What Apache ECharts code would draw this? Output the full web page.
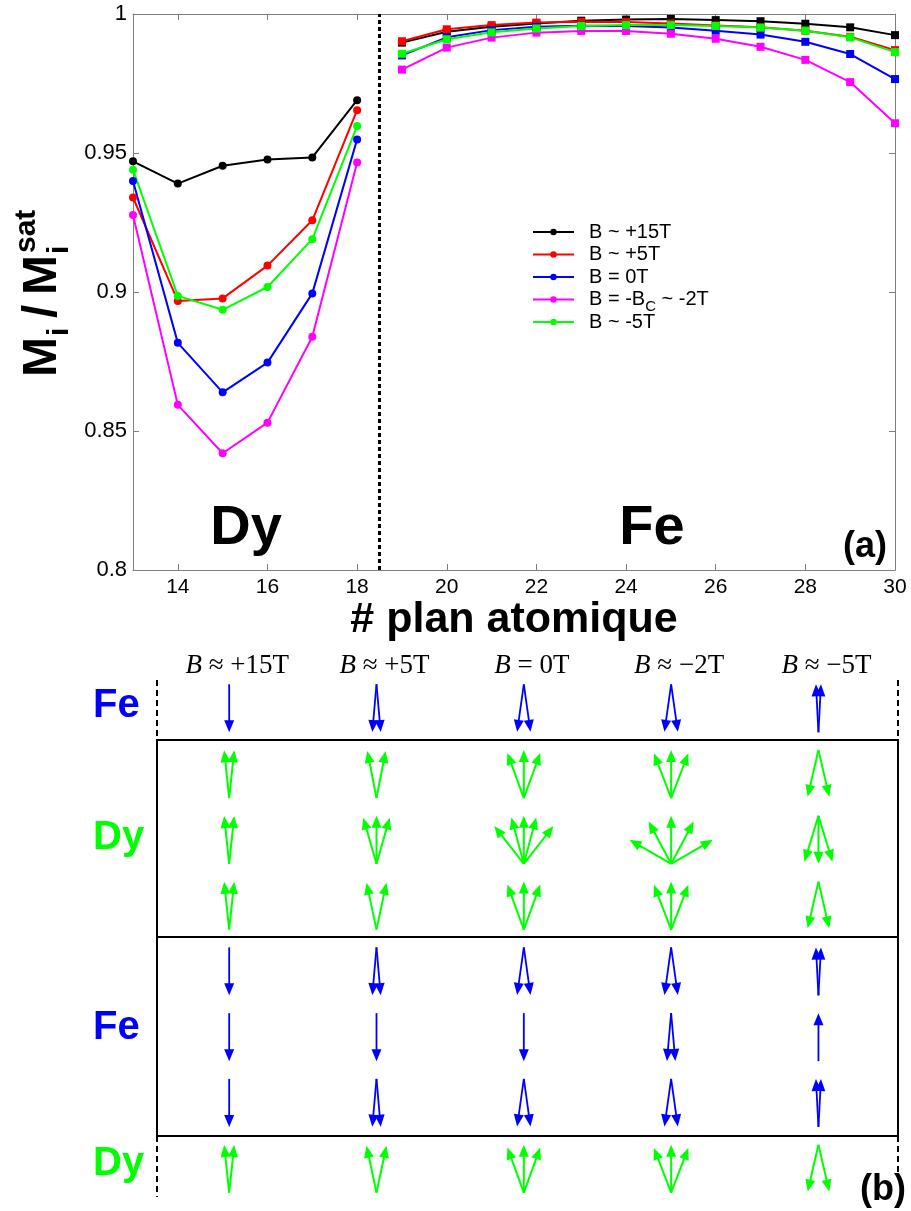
<!DOCTYPE html>
<html><head><meta charset="utf-8">
<script src="https://cdn.jsdelivr.net/npm/echarts@6/dist/echarts.min.js"></script>
<style>html,body{margin:0;padding:0;background:#fff}#c{width:911px;height:1211px}</style>
</head><body><div id="c"></div>
<script>
// ---------- Panel (a) data ----------
const planesDy = [13, 14, 15, 16, 17, 18];
const planesFe = [19, 20, 21, 22, 23, 24, 25, 26, 27, 28, 29, 30];
const xTickValues = [14, 16, 18, 20, 22, 24, 26, 28, 30];
const seriesNames = ['B ~ +15T', 'B ~ +5T', 'B = 0T', 'B = -B_C ~ -2T', 'B ~ -5T'];
const seriesColors = ['#000000', '#ff0000', '#0000ff', '#ff00ff', '#00ff00'];

const dyP15 = [0.947, 0.939, 0.9454, 0.9477, 0.9484, 0.969];
const dyP5  = [0.934, 0.8968, 0.8977, 0.9095, 0.9258, 0.9654];
const dy0   = [0.9399, 0.8817, 0.8639, 0.8746, 0.8995, 0.9549];
const dyM2  = [0.9277, 0.8594, 0.842, 0.853, 0.8839, 0.9466];
const dyM5  = [0.944, 0.8986, 0.8936, 0.9018, 0.919, 0.9597];

const feP15 = [0.9897, 0.9936, 0.9954, 0.9966, 0.9976, 0.998, 0.9982, 0.9978, 0.9974, 0.9965, 0.9952, 0.9924];
const feP5  = [0.9902, 0.9945, 0.996, 0.9969, 0.9972, 0.9971, 0.9966, 0.9959, 0.9952, 0.994, 0.9918, 0.987];
const fe0   = [0.9851, 0.9916, 0.9942, 0.9954, 0.9958, 0.9957, 0.9951, 0.994, 0.9926, 0.99, 0.9856, 0.9766];
const feM2  = [0.98, 0.9879, 0.9915, 0.9933, 0.9939, 0.9939, 0.9929, 0.9911, 0.9882, 0.9835, 0.9755, 0.9607];
const feM5  = [0.9857, 0.9909, 0.9934, 0.9948, 0.9957, 0.996, 0.996, 0.9957, 0.9951, 0.994, 0.9916, 0.9863];

const dySets = [dyP15, dyP5, dy0, dyM2, dyM5];
const feSets = [feP15, feP5, fe0, feM2, feM5];
const interfacePlane = 18.5;

// ---------- Panel (b) data ----------
const bHeaders = ['\u00a0≈\u00a0+15T', '\u00a0≈\u00a0+5T', '\u00a0=\u00a00T', '\u00a0≈\u00a0−2T', '\u00a0≈\u00a0−5T'];
const bRowKinds = ['Fe', 'Dy', 'Dy', 'Dy', 'Fe', 'Fe', 'Fe', 'Dy'];
// angles in degrees: 0 = up, 180 = down, positive = tilted right
const arrowAngles = [
  [[180], [-6, 6], [-6, 6], [-6, 6], [180], [180], [180], [-6, 6]],
  [[175, 185], [-11, 11], [-16, 0, 16], [-12, 12], [175, 185], [180], [175, 185], [-12, 12]],
  [[172, 188], [-20, 0, 20], [-38, -15, 0, 15, 38], [-20, 0, 20], [172, 188], [180], [172, 188], [-20, 0, 20]],
  [[172, 188], [-21, 0, 21], [-60, -28, 0, 28, 60], [-21, 0, 21], [172, 188], [175, 185], [172, 188], [-21, 0, 21]],
  [[-3, 3], [167, 193], [163, 180, 197], [167, 193], [-3, 3], [0], [-3, 3], [167, 193]]
];

const SANS = 'Liberation Sans';
const SERIF = 'Liberation Serif';

const arrowData = [];
arrowAngles.forEach((rows, c) => rows.forEach((angs, r) => angs.forEach(a => arrowData.push([c, r, a]))));

const series = [];
seriesNames.forEach((name, i) => {
  series.push({
    name, type: 'line', xAxisIndex: 0, yAxisIndex: 0,
    data: planesDy.map((x, j) => [x, dySets[i][j]]),
    symbol: 'circle', symbolSize: 8, color: seriesColors[i],
    lineStyle: { width: 2, color: seriesColors[i] }, itemStyle: { color: seriesColors[i] },
    z: 3,
    markLine: i === 0 ? {
      silent: true, symbol: ['none', 'none'], label: { show: false },
      lineStyle: { color: '#000', type: [4, 3], width: 3 },
      data: [{ xAxis: interfacePlane }]
    } : undefined
  });
});
seriesNames.forEach((name, i) => {
  series.push({
    name, type: 'line', xAxisIndex: 0, yAxisIndex: 0,
    data: planesFe.map((x, j) => [x, feSets[i][j]]),
    symbol: 'rect', symbolSize: 8, color: seriesColors[i],
    lineStyle: { width: 2, color: seriesColors[i] }, itemStyle: { color: seriesColors[i] },
    z: 3
  });
});

series.push({
  type: 'custom', xAxisIndex: 2, yAxisIndex: 2, data: arrowData, silent: true,
  renderItem: function (params, api) {
    const col = api.value(0), row = api.value(1), ang = api.value(2) * Math.PI / 180;
    const c = api.coord([col, row]);
    const L = 48, head = 12, hw = 5;
    const down = Math.cos(ang) < 0;
    const tx = c[0], ty = c[1] + (down ? -L / 2 : L / 2);
    const dx = Math.sin(ang), dy = -Math.cos(ang);
    const px = tx + dx * L, py = ty + dy * L;
    const bx = px - dx * head, by = py - dy * head;
    const isFe = bRowKinds[row] === 'Fe';
    const color = isFe ? '#0000ff' : '#00ff00';
    return {
      type: 'group', children: [
        { type: 'line', shape: { x1: tx, y1: ty, x2: bx + dx * 1, y2: by + dy * 1 }, style: { stroke: color, lineWidth: isFe ? 1.8 : 2 } },
        { type: 'polygon', shape: { points: [[px, py], [bx - dy * hw, by + dx * hw], [bx + dy * hw, by - dx * hw]] }, style: { fill: color } }
      ]
    };
  }
});

const axisGray = '#7f7f7f';
const option = {
  backgroundColor: '#fff',
  animation: false,
  textStyle: { fontFamily: SANS },
  legend: {
    data: seriesNames, orient: 'vertical', left: 532, top: 217, padding: 0,
    itemWidth: 41, itemHeight: 8, itemGap: -7.5,
    formatter: n => n === 'B = -B_C ~ -2T' ? 'B = -B{sub|C} ~ -2T' : n,
    textStyle: {
      fontSize: 20, color: '#000', fontFamily: SANS, lineHeight: 30, padding: [0, 0, 0, 10],
      rich: { sub: { fontSize: 15, fontFamily: SANS, color: '#000', lineHeight: 30, verticalAlign: 'bottom' } }
    }
  },
  grid: [
    { left: 133, right: 16, top: 14, bottom: 641 },
    { left: 157, right: 13, top: 680, bottom: 16 }
  ],
  xAxis: [
    {
      type: 'value', gridIndex: 0, min: 13, max: 30,
      axisLine: { lineStyle: { color: axisGray, width: 1 } },
      axisTick: { inside: true, length: 6, customValues: xTickValues, lineStyle: { color: axisGray } },
      axisLabel: { customValues: xTickValues, fontSize: 21, color: '#000', margin: 7, fontFamily: SANS },
      splitLine: { show: false },
      name: '# plan atomique', nameLocation: 'middle', nameGap: 22,
      nameTextStyle: { fontSize: 43, fontWeight: 'bold', color: '#000', fontFamily: SANS }
    },
    {
      type: 'value', gridIndex: 0, min: 13, max: 30, position: 'top',
      axisLine: { lineStyle: { color: axisGray, width: 1 } },
      axisTick: { inside: true, length: 6, customValues: xTickValues, lineStyle: { color: axisGray } },
      axisLabel: { show: false }, splitLine: { show: false }
    },
    {
      type: 'value', gridIndex: 1, min: -0.49, max: 4.54, position: 'top',
      axisLine: { show: false }, axisTick: { show: false }, splitLine: { show: false },
      axisLabel: {
        customValues: [0, 1, 2, 3, 4], margin: 1, padding: [0, 0, 0, 16],
        formatter: v => '{i|B}{n|' + bHeaders[Math.round(v)] + '}',
        rich: {
          i: { fontFamily: SERIF, fontStyle: 'italic', fontSize: 27, color: '#000' },
          n: { fontFamily: SERIF, fontSize: 27, color: '#000' }
        }
      }
    }
  ],
  yAxis: [
    {
      type: 'value', gridIndex: 0, min: 0.8, max: 1, interval: 0.05,
      axisLine: { show: true, lineStyle: { color: axisGray, width: 1 } },
      axisTick: { show: true, inside: true, length: 6, lineStyle: { color: axisGray } },
      axisLabel: { fontSize: 22, color: '#000', margin: 6, fontFamily: SANS, formatter: v => String(parseFloat(v.toFixed(2))) },
      splitLine: { show: false }
    },
    {
      type: 'value', gridIndex: 0, min: 0.8, max: 1, interval: 0.05, position: 'right',
      axisLine: { show: true, lineStyle: { color: axisGray, width: 1 } },
      axisTick: { show: true, inside: true, length: 6, lineStyle: { color: axisGray } },
      axisLabel: { show: false }, splitLine: { show: false }
    },
    { type: 'value', gridIndex: 1, min: -0.43, max: 7.4, inverse: true, show: false }
  ],
  graphic: [
    // panel (a) texts
    { type: 'text', x: 246, y: 529, style: { text: 'Dy', fill: '#000', font: 'bold 56px "Liberation Sans"', textAlign: 'center', textVerticalAlign: 'middle' } },
    { type: 'text', x: 652, y: 529, style: { text: 'Fe', fill: '#000', font: 'bold 56px "Liberation Sans"', textAlign: 'center', textVerticalAlign: 'middle' } },
    { type: 'text', x: 887, y: 547, style: { text: '(a)', fill: '#000', font: 'bold 36px "Liberation Sans"', textAlign: 'right', textVerticalAlign: 'middle' } },
    // y axis title
    {
      type: 'group', x: 60, y: 377, rotation: Math.PI / 2, children: [
        { type: 'text', x: 0, y: -17, style: { text: 'M', fill: '#000', font: 'bold 48px "Liberation Sans"', textAlign: 'left', textVerticalAlign: 'middle' } },
        { type: 'text', x: 41, y: 0, style: { text: 'i', fill: '#000', font: 'bold 30px "Liberation Sans"', textAlign: 'left', textVerticalAlign: 'middle' } },
        { type: 'text', x: 59, y: -17, style: { text: '/', fill: '#000', font: 'bold 48px "Liberation Sans"', textAlign: 'left', textVerticalAlign: 'middle' } },
        { type: 'text', x: 82, y: -17, style: { text: 'M', fill: '#000', font: 'bold 48px "Liberation Sans"', textAlign: 'left', textVerticalAlign: 'middle' } },
        { type: 'text', x: 123, y: 0, style: { text: 'i', fill: '#000', font: 'bold 30px "Liberation Sans"', textAlign: 'left', textVerticalAlign: 'middle' } },
        { type: 'text', x: 124, y: -33, style: { text: 'sat', fill: '#000', font: 'bold 30px "Liberation Sans"', textAlign: 'left', textVerticalAlign: 'middle' } }
      ]
    },
    // panel (b) frames
    { type: 'rect', shape: { x: 157, y: 740, width: 741, height: 197 }, style: { fill: 'none', stroke: '#000', lineWidth: 2 } },
    { type: 'rect', shape: { x: 157, y: 937, width: 741, height: 199 }, style: { fill: 'none', stroke: '#000', lineWidth: 2 } },
    { type: 'line', shape: { x1: 157, y1: 680, x2: 157, y2: 740 }, style: { stroke: '#000', lineWidth: 2, lineDash: [6, 4] } },
    { type: 'line', shape: { x1: 898, y1: 680, x2: 898, y2: 740 }, style: { stroke: '#000', lineWidth: 2, lineDash: [6, 4] } },
    { type: 'line', shape: { x1: 157, y1: 1136, x2: 157, y2: 1197 }, style: { stroke: '#000', lineWidth: 2, lineDash: [6, 4] } },
    { type: 'line', shape: { x1: 898, y1: 1136, x2: 898, y2: 1174 }, style: { stroke: '#000', lineWidth: 2, lineDash: [6, 4] } },
    // panel (b) labels
    { type: 'text', x: 93, y: 706, style: { text: 'Fe', fill: '#0000ff', font: 'bold 40px "Liberation Sans"', textAlign: 'left', textVerticalAlign: 'middle' } },
    { type: 'text', x: 93, y: 838, style: { text: 'Dy', fill: '#00ff00', font: 'bold 40px "Liberation Sans"', textAlign: 'left', textVerticalAlign: 'middle' } },
    { type: 'text', x: 93, y: 1028, style: { text: 'Fe', fill: '#0000ff', font: 'bold 40px "Liberation Sans"', textAlign: 'left', textVerticalAlign: 'middle' } },
    { type: 'text', x: 93, y: 1164, style: { text: 'Dy', fill: '#00ff00', font: 'bold 40px "Liberation Sans"', textAlign: 'left', textVerticalAlign: 'middle' } },
    { type: 'text', x: 906, y: 1190, style: { text: '(b)', fill: '#000', font: 'bold 36px "Liberation Sans"', textAlign: 'right', textVerticalAlign: 'middle' } }
  ],
  series
};
const chart = echarts.init(document.getElementById('c'));
chart.setOption(option);
</script>
</body></html>
